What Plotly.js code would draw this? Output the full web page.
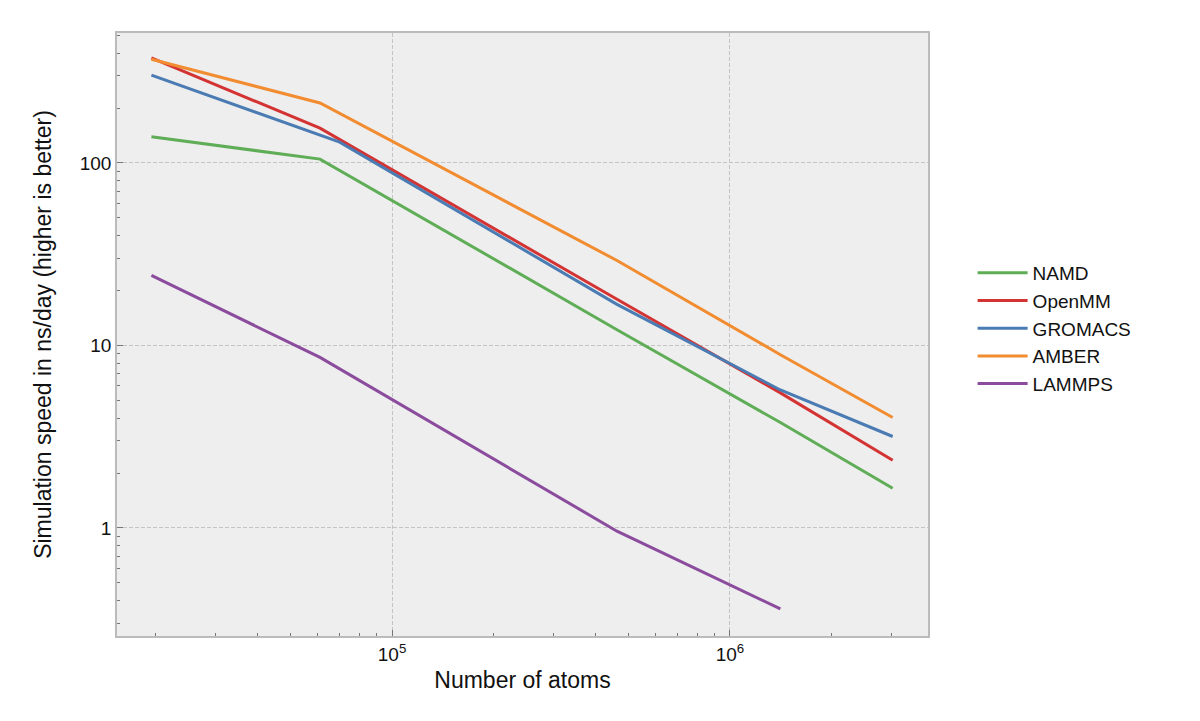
<!DOCTYPE html>
<html>
<head>
<meta charset="utf-8">
<script src="https://cdn.plot.ly/plotly-3.0.1.min.js"></script>
<style>body{margin:0;background:#fff}#chart{width:1200px;height:721px}</style>
</head>
<body>
<div id="chart"></div>
<script>
var atoms = [19400, 61200, 463000, 1410000, 3030000];
var atomsGromacs = [19400, 70000, 463000, 1410000, 3030000];
var atomsLammps = [19400, 61200, 463000, 1410000];

var namd = [139, 105, 12.2, 3.78, 1.65];
var openmm = [376, 155, 17.9, 5.5, 2.35];
var gromacs = [303, 130, 16.8, 5.7, 3.17];
var amber = [370, 213, 29.2, 8.9, 4.03];
var lammps = [24.2, 8.6, 0.96, 0.36];

function line(name, x, y, color) {
    return { x: x, y: y, name: name, mode: 'lines', type: 'scatter',
             line: { color: color, width: 3 } };
}

var data = [
    line('NAMD', atoms, namd, '#5fad56'),
    line('OpenMM', atoms, openmm, '#d43333'),
    line('GROMACS', atomsGromacs, gromacs, '#4a7bb3'),
    line('AMBER', atoms, amber, '#f28c30'),
    line('LAMMPS', atomsLammps, lammps, '#8b4c9e')
];

var font = { family: 'Liberation Sans, Arial, sans-serif', color: '#111', size: 19 };

var layout = {
    width: 1200, height: 721,
    margin: { l: 117, r: 272, t: 33, b: 85 },
    paper_bgcolor: '#fff',
    plot_bgcolor: '#eeeeee',
    font: font,
    showlegend: true,
    legend: { x: 1.055, y: 0.51, yanchor: 'middle', font: { size: 19 }, tracegroupgap: 0, itemwidth: 50 },
    xaxis: {
        type: 'log', range: [4.186, 6.586],
        title: { text: 'Number of atoms', font: { size: 23 }, standoff: 8 },
        tickvals: [1e5, 1e6], ticktext: ['10<sup>5</sup>', '10<sup>6</sup>'],
        ticks: 'inside', ticklen: 6, tickcolor: '#777',
        showgrid: true, gridcolor: '#c4c4c4', griddash: '4px,2px', gridwidth: 1,
        minor: { ticks: 'inside', ticklen: 3, tickcolor: '#777', showgrid: false,
                 tickvals: [20000,30000,40000,50000,60000,70000,80000,90000,200000,300000,400000,500000,600000,700000,800000,900000,2e6,3e6] },
        showline: true, mirror: true, linecolor: '#bbb', linewidth: 1.5,
        zeroline: false
    },
    yaxis: {
        type: 'log', range: [-0.592, 2.712],
        title: { text: 'Simulation speed in ns/day (higher is better)', font: { size: 23 }, standoff: 22 },
        tickvals: [1, 10, 100], ticktext: ['1', '10', '100'],
        ticks: 'inside', ticklen: 6, tickcolor: '#777',
        showgrid: true, gridcolor: '#c4c4c4', griddash: '4px,2px', gridwidth: 1,
        minor: { ticks: 'inside', ticklen: 3, tickcolor: '#777', showgrid: false,
                 tickvals: [0.3,0.4,0.5,0.6,0.7,0.8,0.9,2,3,4,5,6,7,8,9,20,30,40,50,60,70,80,90,200,300,400,500] },
        showline: true, mirror: true, linecolor: '#bbb', linewidth: 1.5,
        zeroline: false
    }
};

Plotly.newPlot('chart', data, layout, { displayModeBar: false });
</script>
</body>
</html>
